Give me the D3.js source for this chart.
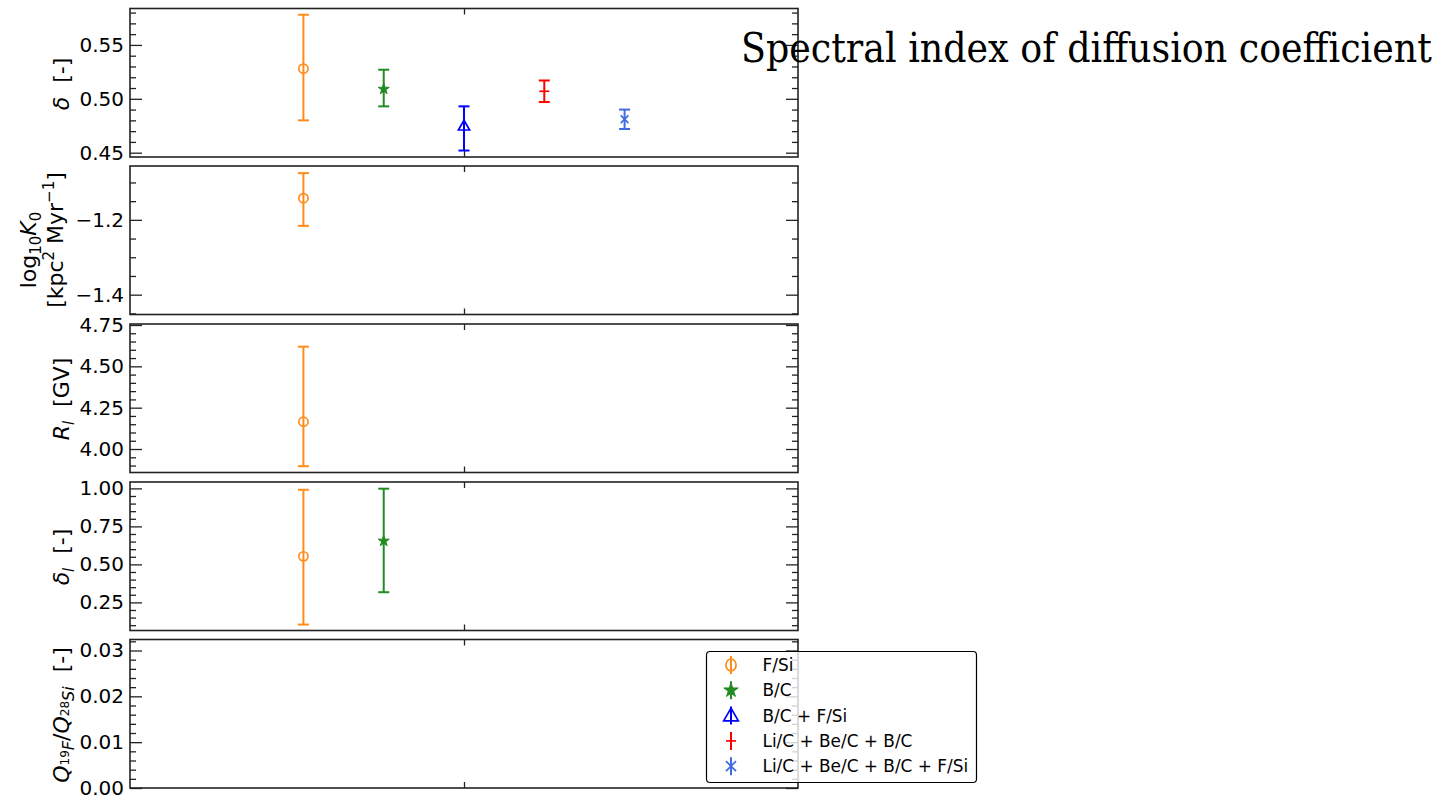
<!DOCTYPE html>
<html>
<head>
<meta charset="utf-8">
<script src="https://cdn.jsdelivr.net/npm/d3@7"></script>
<style>
  body { margin: 0; background: #fff; }
  svg { display: block; }
</style>
</head>
<body>
<div id="chart_div"></div>
<script>
// fits / data sets (one point per fit, x is just the slot)
var fitNames = ["F/Si", "B/C", "B/C + F/Si", "Li/C + Be/C + B/C", "Li/C + Be/C + B/C + F/Si"];
var fitSlots = [-2, -1, 0, 1, 2];
var fitColors = ["#ff8c1a", "#228b22", "#0000ff", "#ff0000", "#4169e1"];
var fitMarkers = ["circle", "star", "triangle", "hline", "x"];

// delta
var deltaVal = [0.528, 0.509, 0.475, 0.507, 0.481];
var deltaLo = [0.480, 0.493, 0.452, 0.497, 0.472];
var deltaHi = [0.578, 0.527, 0.493, 0.517, 0.490];
// log10 K0
var logK0Val = [-1.142, null, null, null, null];
var logK0Lo = [-1.216, null, null, null, null];
var logK0Hi = [-1.075, null, null, null, null];
// R_l
var rlVal = [4.165, null, null, null, null];
var rlLo = [3.896, null, null, null, null];
var rlHi = [4.619, null, null, null, null];
// delta_l
var deltaLVal = [0.553, 0.654, null, null, null];
var deltaLLo = [0.104, 0.317, null, null, null];
var deltaLHi = [0.991, 0.998, null, null, null];
// Q19F / Q28Si (no points shown)
var qVal = [null, null, null, null, null];
var qLo = [null, null, null, null, null];
var qHi = [null, null, null, null, null];

// y ticks
var deltaTicks = [0.45, 0.50, 0.55];
var logK0Ticks = [-1.4, -1.2];
var rlTicks = [4.00, 4.25, 4.50, 4.75];
var deltaLTicks = [0.25, 0.50, 0.75, 1.00];
var qTicks = [0.00, 0.01, 0.02, 0.03];

var titleText = "Spectral index of diffusion coefficient";

var panels = [
  { val: deltaVal, lo: deltaLo, hi: deltaHi, domain: [0.446, 0.5838], ticks: deltaTicks, minor: 0.01, fmt: ".2f" },
  { val: logK0Val, lo: logK0Lo, hi: logK0Hi, domain: [-1.453, -1.056], ticks: logK0Ticks, minor: 0.05, fmt: ".1f" },
  { val: rlVal, lo: rlLo, hi: rlHi, domain: [3.858, 4.756], ticks: rlTicks, minor: 0.05, fmt: ".2f" },
  { val: deltaLVal, lo: deltaLLo, hi: deltaLHi, domain: [0.065, 1.042], ticks: deltaLTicks, minor: 0.05, fmt: ".2f" },
  { val: qVal, lo: qLo, hi: qHi, domain: [0, 0.0324], ticks: qTicks, minor: 0.002, fmt: ".2f" }
];

var W = 1437, H = 798;
var plotLeft = 130, plotRight = 798;
var panelTops = [8.5, 166, 324, 482, 639.5];
var panelH = 148.5;

var svg = d3.select("#chart_div").append("svg")
  .attr("width", W).attr("height", H)
  .style("font-family", "'DejaVu Sans', sans-serif");

var x = d3.scaleLinear().domain([-4.16, 4.16]).range([plotLeft, plotRight]);

function drawMarker(g, name, color, cx, cy, big) {
  var s = big ? 1.3 : 1;
  if (name === "circle") {
    g.append("ellipse").attr("cx", cx).attr("cy", cy).attr("rx", 4.6 * (big ? 1.1 : 1)).attr("ry", 4.6 * s)
      .attr("fill", "none").attr("stroke", color).attr("stroke-width", 1.7);
  } else if (name === "star") {
    g.append("path").attr("d", d3.symbol().type(d3.symbolStar).size(38 * s * s)())
      .attr("transform", "translate(" + cx + "," + cy + ")")
      .attr("fill", color).attr("stroke", color).attr("stroke-width", 1);
  } else if (name === "triangle") {
    g.append("path").attr("d", d3.symbol().type(d3.symbolTriangle).size(55 * s * s)())
      .attr("transform", "translate(" + cx + "," + (cy + 1) + ")")
      .attr("fill", "none").attr("stroke", color).attr("stroke-width", 1.7);
  } else if (name === "x") {
    g.append("path").attr("d", d3.symbol().type(d3.symbolX).size(40 * s * s)())
      .attr("transform", "translate(" + cx + "," + cy + ")")
      .attr("fill", "none").attr("stroke", color).attr("stroke-width", 1.7);
  } else if (name === "hline") {
    g.append("line").attr("x1", cx - 5).attr("x2", cx + 5).attr("y1", cy).attr("y2", cy)
      .attr("stroke", color).attr("stroke-width", 1.7);
  }
}

panels.forEach(function(p, pi) {
  var top = panelTops[pi], bottom = top + panelH;
  var y = d3.scaleLinear().domain(p.domain).range([bottom, top]);
  var g = svg.append("g");

  // minor ticks
  var minorTicks = d3.range(Math.ceil(p.domain[0] / p.minor - 1e-6), Math.floor(p.domain[1] / p.minor + 1e-6) + 1)
    .map(function(k) { return +(k * p.minor).toFixed(6); })
    .filter(function(v) { return p.ticks.every(function(t) { return Math.abs(t - v) > 1e-6; }); });

  var axL = g.append("g").attr("transform", "translate(" + plotLeft + ",0)")
    .call(d3.axisLeft(y).tickValues(p.ticks).tickSize(-12).tickPadding(6).tickFormat(d3.format(p.fmt)));
  axL.selectAll("text").attr("font-size", "20px").attr("fill", "#000")
    .attr("font-family", "'DejaVu Sans', sans-serif");
  g.append("g").attr("transform", "translate(" + plotLeft + ",0)")
    .call(d3.axisLeft(y).tickValues(minorTicks).tickSize(-6).tickFormat(""));
  g.append("g").attr("transform", "translate(" + plotRight + ",0)")
    .call(d3.axisRight(y).tickValues(p.ticks).tickSize(-12).tickFormat(""));
  g.append("g").attr("transform", "translate(" + plotRight + ",0)")
    .call(d3.axisRight(y).tickValues(minorTicks).tickSize(-6).tickFormat(""));
  g.append("g").attr("transform", "translate(0," + top + ")")
    .call(d3.axisTop(x).tickValues([0]).tickSize(-6).tickFormat(""));
  g.append("g").attr("transform", "translate(0," + bottom + ")")
    .call(d3.axisBottom(x).tickValues([0]).tickSize(-6).tickFormat(""));
  g.selectAll(".domain").remove();
  g.selectAll(".tick line").attr("stroke", "#222").attr("stroke-width", 1.3);

  // error bars
  p.val.forEach(function(v, i) {
    if (v === null) return;
    var cx = x(fitSlots[i]);
    var c = fitColors[i];
    g.append("line").attr("x1", cx).attr("x2", cx).attr("y1", y(p.lo[i])).attr("y2", y(p.hi[i]))
      .attr("stroke", c).attr("stroke-width", 2);
    [p.lo[i], p.hi[i]].forEach(function(e) {
      g.append("line").attr("x1", cx - 5.5).attr("x2", cx + 5.5).attr("y1", y(e)).attr("y2", y(e))
        .attr("stroke", c).attr("stroke-width", 2);
    });
    drawMarker(g, fitMarkers[i], c, cx, y(v), false);
  });

  // frame
  g.append("rect").attr("x", plotLeft).attr("y", top)
    .attr("width", plotRight - plotLeft).attr("height", panelH)
    .attr("fill", "none").attr("stroke", "#222").attr("stroke-width", 1.6);
});

// y labels
function rotLabel(cx, cy) {
  return svg.append("text")
    .attr("transform", "translate(" + cx + "," + cy + ") rotate(-90)")
    .attr("text-anchor", "middle").attr("font-size", "22px").attr("fill", "#000");
}
var l1 = rotLabel(69, 84);
l1.append("tspan").attr("font-style", "italic").text("δ");
l1.append("tspan").text("\u00a0\u00a0[-]");

var l2a = rotLabel(36, 250);
l2a.append("tspan").text("log");
l2a.append("tspan").attr("font-size", "15px").attr("dy", 5).text("10");
l2a.append("tspan").attr("font-style", "italic").attr("dy", -5).text("K");
l2a.append("tspan").attr("font-size", "15px").attr("dy", 5).text("0");
var l2b = rotLabel(63, 240);
l2b.append("tspan").text("[kpc");
l2b.append("tspan").attr("font-size", "15px").attr("dy", -9).text("2");
l2b.append("tspan").attr("dy", 9).text(" Myr");
l2b.append("tspan").attr("font-size", "15px").attr("dy", -9).text("−1");
l2b.append("tspan").attr("dy", 9).text("]");

var l3 = rotLabel(69, 399);
l3.append("tspan").attr("font-style", "italic").text("R");
l3.append("tspan").attr("font-style", "italic").attr("font-size", "15px").attr("dy", 5).text("l");
l3.append("tspan").attr("dy", -5).text("\u00a0\u00a0[GV]");

var l4 = rotLabel(69, 557);
l4.append("tspan").attr("font-style", "italic").text("δ");
l4.append("tspan").attr("font-style", "italic").attr("font-size", "15px").attr("dy", 5).text("l");
l4.append("tspan").attr("dy", -5).text("\u00a0\u00a0[-]");

var l5 = rotLabel(69, 715);
l5.append("tspan").attr("font-style", "italic").text("Q");
l5.append("tspan").attr("font-size", "12px").attr("dy", 0).text("19");
l5.append("tspan").attr("font-style", "italic").attr("font-size", "16px").attr("dy", 5).text("F");
l5.append("tspan").attr("dy", -5).text("/");
l5.append("tspan").attr("font-style", "italic").text("Q");
l5.append("tspan").attr("font-size", "12px").attr("dy", 0).text("28");
l5.append("tspan").attr("font-style", "italic").attr("font-size", "16px").attr("dy", 5).text("Si");
l5.append("tspan").attr("dy", -5).text("\u00a0\u00a0[-]");

// legend
var legX = 706.5, legY = 651.5, legW = 270, legH = 131;
var leg = svg.append("g");
leg.append("rect").attr("x", legX).attr("y", legY).attr("width", legW).attr("height", legH)
  .attr("rx", 3.5).attr("fill", "#fff").attr("fill-opacity", 0.8)
  .attr("stroke", "#000").attr("stroke-width", 1.2);
fitNames.forEach(function(name, i) {
  var cy = legY + 13.5 + i * 25.3;
  var cx = 731;
  leg.append("line").attr("x1", cx).attr("x2", cx).attr("y1", cy - 9).attr("y2", cy + 9)
    .attr("stroke", fitColors[i]).attr("stroke-width", 2);
  drawMarker(leg, fitMarkers[i], fitColors[i], cx, cy, true);
  leg.append("text").attr("x", 762.5).attr("y", cy + 6).attr("font-size", "16.9px")
    .attr("fill", "#000").text(name);
});

// title
var title = svg.append("text").attr("x", 741).attr("y", 62)
  .attr("font-family", "'DejaVu Serif Condensed', 'DejaVu Serif', serif")
  .attr("font-stretch", "condensed").attr("font-size", 40)
  .attr("fill", "#000").text(titleText);
var tw = title.node().getComputedTextLength();
title.attr("font-size", 40 * 691 / tw);
</script>
</body>
</html>
